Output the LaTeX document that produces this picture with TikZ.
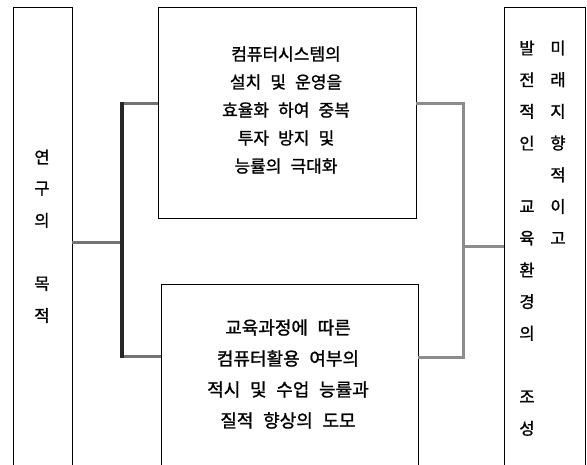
\documentclass[tikz,border=0pt]{standalone}
\usepackage{fontspec}
\newfontfamily\kr{Noto Sans CJK KR}[WordSpace=2.4,FakeBold=1.2]
\begin{document}
\begin{tikzpicture}[x=1pt,y=-1pt,
  box/.style={draw=black, line width=0.9pt, rectangle, inner sep=0pt, outer sep=0pt},
  txt/.style={font=\kr\fontsize{17}{28}\selectfont, align=center, inner sep=0pt},
  txtb/.style={font=\kr\fontsize{18}{31}\selectfont, align=center, inner sep=0pt},
  chr/.style={font=\kr\fontsize{16.5}{18}\selectfont, inner sep=0pt},
  hline/.style={draw=black!55, line width=3pt},
  darkbar/.style={draw=black!85, line width=4.5pt},
  rline/.style={draw=black!45, line width=3pt}]
\useasboundingbox (0,0) rectangle (587,465);
\clip (0,0) rectangle (587,465);
% boxes
\node[box, minimum width=59pt, minimum height=480pt, anchor=north west] (goal) at (13,7) {};
\node[box, minimum width=258pt, minimum height=211pt, anchor=north west] (sys) at (158,7) {};
\node[box, minimum width=257pt, minimum height=250pt, anchor=north west] (cur) at (161,284) {};
\node[box, minimum width=81pt, minimum height=480pt, anchor=north west] (res) at (504,7) {};
% texts
\node[txt] (systxt) at (286,110) {컴퓨터시스템의\\설치 및 운영을\\효율화 하여 중복\\투자 방지 및\\능률의 극대화};
\node[txtb] (curtxt) at (288,374) {교육과정에 따른\\컴퓨터활용 여부의\\적시 및 수업 능률과\\질적 향상의 도모};
\foreach \ch [count=\i from 0] in {연,구,의,{},목,적}
  \node[chr] (g\i) at (42,157+31.7*\i) {\ch};
\foreach \ch [count=\i from 0] in {발,전,적,인,{},교,육,환,경,의,{},조,성}
  \node[chr] (a\i) at (527,48+31.7*\i) {\ch};
\foreach \ch [count=\i from 0] in {미,래,지,향,적,이,고}
  \node[chr] (b\i) at (558,48+31.7*\i) {\ch};
% connectors
\coordinate (lj) at (122,243);
\coordinate (ltop) at (122,104);
\coordinate (lbot) at (122,357);
\coordinate (rtop) at (463,104);
\coordinate (rbot) at (463,358);
\coordinate (rj) at (463,247);
\draw[hline] (goal.east |- lj) -- (lj);
\draw[hline] (ltop) -- (sys.west |- ltop);
\draw[hline] (lbot) -- (cur.west |- lbot);
\draw[darkbar] ([yshift=1.5pt]ltop) -- ([yshift=-1.5pt]lbot);
\draw[rline] (sys.east |- rtop) -- (rtop) -- (rbot) -- (cur.east |- rbot);
\draw[rline] (rj) -- (res.west |- rj);
\end{tikzpicture}
\end{document}
